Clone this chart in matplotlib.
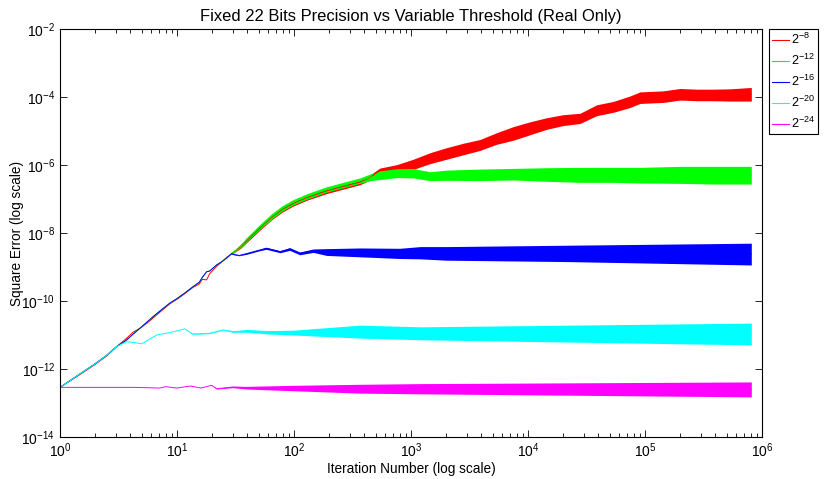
import numpy as np
import matplotlib
matplotlib.use("Agg")
import matplotlib.pyplot as plt
from matplotlib.lines import Line2D
from matplotlib.ticker import NullLocator, NullFormatter

plt.rcParams["font.family"] = ["Liberation Sans", "DejaVu Sans"]
plt.rcParams["mathtext.default"] = "regular"

# shared rising trunk (iterations 1..~30), log10 of square error
trunk_x = [1, 1.5, 1.93, 2.5, 3.05, 3.7, 4.2, 4.83, 5.5, 6.25, 7.3, 8.7, 10,
           11.5, 13.7, 15.5, 16.5, 17.9, 19, 21.8, 24, 26.5, 29.5]
trunk_y = [-12.54, -12.13, -11.88, -11.6, -11.34, -11.15, -10.98, -10.8, -10.63,
           -10.46, -10.27, -10.06, -9.93, -9.78, -9.58, -9.45, -9.3, -9.14,
           -9.12, -8.94, -8.85, -8.74, -8.6]
red_trunk_y = [-12.54, -12.15, -11.9, -11.62, -11.34, -11.1, -10.92, -10.8, -10.66,
               -10.5, -10.3, -10.08, -9.95, -9.8, -9.6, -9.5, -9.36, -9.38,
               -9.2, -8.98, -8.86, -8.72, -8.6]

# red 2^-8 : centre / half-width (decades) after the trunk
red_x = [29.5, 35, 40, 51, 65, 80, 98, 130, 190, 270, 366, 450, 543, 754, 1045,
         1452, 2016, 2800, 3890, 5400, 7500, 10400, 14450, 20000, 27800, 38600,
         53600, 74400, 90600, 143000, 199000, 277000, 384000, 533000, 810000]
red_c = [-8.6, -8.4, -8.2, -7.85, -7.52, -7.3, -7.13, -6.95, -6.76, -6.62, -6.5,
         -6.36, -6.16, -6.09, -5.98, -5.8, -5.66, -5.53, -5.41, -5.22, -5.07,
         -4.92, -4.78, -4.68, -4.63, -4.39, -4.29, -4.14, -4.02, -3.99, -3.92,
         -3.94, -3.94, -3.94, -3.92]
red_hw = [0.02, 0.05, 0.06, 0.07, 0.08, 0.08, 0.08, 0.08, 0.08, 0.08, 0.08, 0.08,
          0.07, 0.1, 0.15, 0.16, 0.17, 0.17, 0.16, 0.17, 0.2, 0.19, 0.17, 0.16,
          0.15, 0.16, 0.16, 0.17, 0.17, 0.17, 0.17, 0.17, 0.17, 0.18, 0.2]

# green 2^-12
green_x = [29.5, 35, 40, 51, 65, 80, 98, 130, 190, 270, 366, 450, 543, 754, 1045,
           1452, 2016, 3890, 7500, 14450, 27800, 53600, 90600, 199000, 384000, 810000]
green_c = [-8.6, -8.38, -8.17, -7.82, -7.5, -7.27, -7.1, -6.92, -6.72, -6.58, -6.46,
           -6.36, -6.3, -6.24, -6.24, -6.33, -6.3, -6.29, -6.27, -6.28, -6.29,
           -6.29, -6.3, -6.29, -6.3, -6.3]
green_hw = [0.02, 0.05, 0.06, 0.07, 0.08, 0.08, 0.08, 0.08, 0.08, 0.08, 0.08, 0.1,
            0.13, 0.13, 0.14, 0.13, 0.15, 0.17, 0.17, 0.2, 0.22, 0.22, 0.23, 0.25,
            0.26, 0.26]

# blue 2^-16
blue_x = [29.5, 34, 40, 51, 58, 76, 92, 112, 146, 190, 366, 800, 1200, 2000,
          21000, 810000]
blue_c = [-8.62, -8.66, -8.6, -8.5, -8.45, -8.55, -8.47, -8.6, -8.52, -8.56, -8.57,
          -8.6, -8.58, -8.6, -8.6, -8.62]
blue_hw = [0.01, 0.01, 0.02, 0.02, 0.03, 0.03, 0.04, 0.04, 0.05, 0.1, 0.13, 0.15,
           0.18, 0.2, 0.24, 0.32]

# cyan 2^-20 (leaves the trunk at ~3 iterations)
cyan_x = [3.05, 3.7, 4.3, 5.0, 6.7, 8.7, 11.7, 13.6, 19.1, 24.7, 30, 40, 60, 98,
          366, 1200, 810000]
cyan_c = [-11.34, -11.2, -11.22, -11.26, -11.0, -10.93, -10.82, -10.97, -10.95,
          -10.85, -10.9, -10.88, -10.92, -10.93, -10.9, -10.95, -10.97]
cyan_hw = [0.0, 0.0, 0.0, 0.0, 0.0, 0.0, 0.0, 0.01, 0.01, 0.01, 0.02, 0.04, 0.05,
           0.07, 0.19, 0.19, 0.32]

# magenta 2^-24
mag_x = [1, 4.3, 7.1, 8, 10, 13, 16, 19.8, 21.8, 30, 40, 100, 366, 1200, 810000]
mag_c = [-12.54, -12.54, -12.56, -12.52, -12.56, -12.5, -12.56, -12.48, -12.58,
         -12.53, -12.55, -12.56, -12.58, -12.58, -12.6]
mag_hw = [0.0, 0.0, 0.0, 0.0, 0.0, 0.0, 0.0, 0.0, 0.01, 0.02, 0.04, 0.08, 0.13,
          0.15, 0.22]

labels = ["$2^{-8}$", "$2^{-12}$", "$2^{-16}$", "$2^{-20}$", "$2^{-24}$"]
colors = ["#ff0000", "#00ff00", "#0000ff", "#00ffff", "#ff00ff"]


def draw_series(ax, x, c, hw, color):
    x = np.asarray(x, float)
    c = np.asarray(c, float)
    hw = np.asarray(hw, float)
    ax.fill_between(x, 10 ** (c - hw), 10 ** (c + hw), color=color, lw=0)
    ax.plot(x, 10 ** c, color=color, lw=0.7)


fig = plt.figure(figsize=(8.24, 4.79), dpi=100)
ax = fig.add_axes([60 / 824, 1 - 437 / 479, 702 / 824, 408 / 479])

# red, green, blue share the early trunk
ax.plot(trunk_x, 10 ** np.array(red_trunk_y), color=colors[0], lw=0.7)
draw_series(ax, red_x, red_c, red_hw, colors[0])
ax.plot(trunk_x, 10 ** np.array(trunk_y), color=colors[1], lw=0.7)
draw_series(ax, green_x, green_c, green_hw, colors[1])
ax.plot(trunk_x, 10 ** np.array(trunk_y), color=colors[2], lw=0.7)
draw_series(ax, blue_x, blue_c, blue_hw, colors[2])
ax.plot(trunk_x[:5], 10 ** np.array(trunk_y[:5]), color=colors[3], lw=0.7)
draw_series(ax, cyan_x, cyan_c, cyan_hw, colors[3])
draw_series(ax, mag_x, mag_c, mag_hw, colors[4])

ax.set_xscale("log")
ax.set_yscale("log")
ax.set_xlim(1, 1e6)
ax.set_ylim(1e-14, 1e-2)
ax.set_xticks([10.0 ** k for k in range(0, 7)])
ax.set_xticks([m * 10.0 ** k for k in range(0, 6) for m in range(2, 10)], minor=True)
ax.xaxis.set_minor_formatter(NullFormatter())
ax.set_yticks([10.0 ** k for k in range(-14, -1, 2)])
ax.yaxis.set_minor_locator(NullLocator())
ax.tick_params(which="both", direction="in", top=True, right=True, labelsize=10,
               width=0.6)
ax.tick_params(which="major", length=5)
ax.tick_params(which="minor", length=3)
for s in ax.spines.values():
    s.set_linewidth(0.8)

ax.set_title("Fixed 22 Bits Precision vs Variable Threshold (Real Only)",
             fontsize=11.9, pad=6)
ax.set_xlabel("Iteration Number (log scale)", fontsize=9.8, labelpad=1)
ax.set_ylabel("Square Error (log scale)", fontsize=9.8, labelpad=0)
ax.yaxis.set_label_coords(-0.051, 0.5)

handles = [Line2D([], [], color=c, lw=0.8) for c in colors]
leg = fig.legend(handles, labels, loc="upper left",
                 bbox_to_anchor=(769 / 824, 1 - 29 / 479), fontsize=9.2,
                 fancybox=False, framealpha=1, edgecolor="black",
                 handlelength=1.35, handletextpad=0.1, labelspacing=0.45,
                 borderpad=0.25, borderaxespad=0)
leg.get_frame().set_linewidth(0.8)

fig.savefig("out.png", dpi=100)
